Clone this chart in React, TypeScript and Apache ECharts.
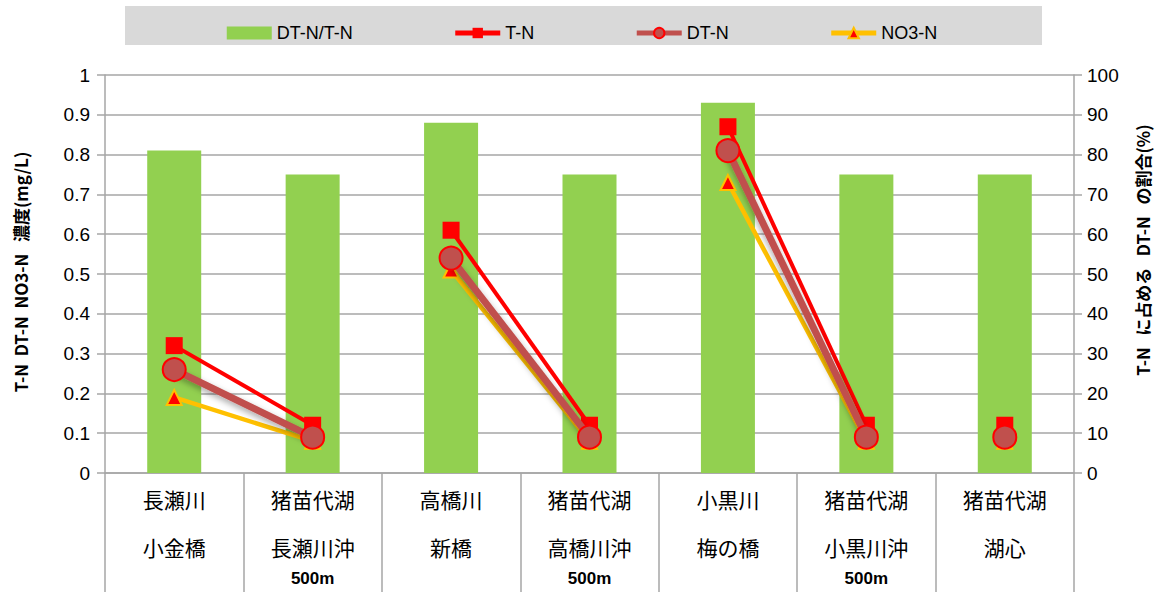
import React, { useEffect, useRef } from "react";
import * as echarts from "echarts";

const categories = [
  "長瀬川\n小金橋",
  "猪苗代湖\n長瀬川沖\n500m",
  "高橋川\n新橋",
  "猪苗代湖\n高橋川沖\n500m",
  "小黒川\n梅の橋",
  "猪苗代湖\n小黒川沖\n500m",
  "猪苗代湖\n湖心",
];
const ratioDTNtoTN = [81, 75, 88, 75, 93, 75, 75];
const tN = [0.32, 0.12, 0.61, 0.12, 0.87, 0.12, 0.12];
const dtN = [0.26, 0.09, 0.54, 0.09, 0.81, 0.09, 0.09];
const no3N = [0.19, 0.08, 0.51, 0.08, 0.73, 0.08, 0.08];
const segments = [
  [0, 1],
  [2, 3],
  [4, 5],
  [6, 6],
];
const leftTicks = { min: 0, max: 1, interval: 0.1 };
const rightTicks = { min: 0, max: 100, interval: 10 };

const FONT = "'Liberation Sans', 'Noto Sans', sans-serif";
const CJK = "'Noto Sans CJK JP', 'Liberation Sans', sans-serif";

function segSeries(name: string, values: number[], extra: any) {
  return segments.map(([a, b]) => ({
    name,
    type: "line",
    yAxisIndex: 0,
    connectNulls: false,
    data: values.map((v, i) => (i >= a && i <= b ? v : null)),
    ...extra,
  }));
}

export default function App() {
  const ref = useRef<HTMLDivElement>(null);
  useEffect(() => {
    document.body.style.margin = "0";
    if (!ref.current) return;
    const chart = echarts.init(ref.current, undefined, { renderer: "svg" });
    const gray = "#A6A6A6";
    const option: any = {
      animation: false,
      backgroundColor: "#ffffff",
      graphic: [
        {
          type: "rect",
          z: 0,
          shape: { x: 125, y: 6, width: 917, height: 39 },
          style: { fill: "#D9D9D9" },
        },
        {
          type: "text",
          x: 20,
          y: 272,
          rotation: Math.PI / 2,
          style: {
            text: "T-N  DT-N  NO3-N   濃度(mg/L)",
            fontSize: 17,
            fontWeight: "bold",
            fontFamily: CJK,
            fill: "#000",
            align: "center",
            verticalAlign: "middle",
          },
        },
        {
          type: "text",
          x: 1142,
          y: 250,
          rotation: Math.PI / 2,
          style: {
            text: "T-N   に占める   DT-N   の割合(%)",
            fontSize: 17,
            fontWeight: "bold",
            fontFamily: CJK,
            fill: "#000",
            align: "center",
            verticalAlign: "middle",
          },
        },
      ],
      legend: {
        z: 5,
        top: 19,
        left: "center",
        itemWidth: 45,
        itemHeight: 13,
        itemGap: 100,
        textStyle: { fontSize: 18, color: "#000", fontFamily: FONT },
        data: [
          { name: "DT-N/T-N", icon: "rect" },
          { name: "T-N", lineStyle: { width: 5 } },
          { name: "DT-N", lineStyle: { width: 5 } },
          { name: "NO3-N", lineStyle: { width: 5 } },
        ],
      },
      grid: { left: 105, right: 90, top: 75, bottom: 119 },
      xAxis: {
        type: "category",
        data: categories,
        axisLine: { lineStyle: { color: gray, width: 1.5 } },
        axisTick: {
          show: true,
          length: 119,
          interval: 0,
          alignWithLabel: false,
          lineStyle: { color: gray, width: 1.5 },
        },
        axisLabel: {
          interval: 0,
          margin: 2,
          color: "#000",
          formatter: (v: string) =>
            v
              .split("\n")
              .map((s, i) => (i < 2 ? `{a|${s}}` : `{b|${s}}`))
              .join("\n"),
          rich: {
            a: { fontSize: 21, lineHeight: 48, fontFamily: CJK, color: "#000" },
            b: {
              fontSize: 17,
              lineHeight: 14,
              fontWeight: "bold",
              fontFamily: FONT,
              color: "#000",
            },
          },
        },
      },
      yAxis: [
        {
          type: "value",
          ...leftTicks,
          position: "left",
          axisLine: { show: true, lineStyle: { color: gray, width: 1.5 } },
          axisTick: { show: true, length: 8, lineStyle: { color: gray, width: 1.5 } },
          axisLabel: { fontSize: 19, color: "#000", fontFamily: FONT, margin: 15 },
          splitLine: { show: true, lineStyle: { color: gray, width: 1.5 } },
        },
        {
          type: "value",
          ...rightTicks,
          position: "right",
          axisLine: { show: true, lineStyle: { color: gray, width: 1.5 } },
          axisTick: { show: true, length: 8, lineStyle: { color: gray, width: 1.5 } },
          axisLabel: { fontSize: 19, color: "#000", fontFamily: FONT, margin: 13 },
          splitLine: { show: false },
        },
      ],
      series: [
        {
          name: "DT-N/T-N",
          type: "bar",
          yAxisIndex: 1,
          barWidth: 54,
          itemStyle: { color: "#92D050" },
          data: ratioDTNtoTN,
        },
        ...segSeries("T-N", tN, {
          symbol: "rect",
          symbolSize: 17,
          itemStyle: { color: "#FF0000" },
          lineStyle: { color: "#FF0000", width: 4 },
          z: 3,
        }),
        ...segSeries("NO3-N", no3N, {
          symbol: "triangle",
          symbolSize: 15,
          itemStyle: { color: "#FF0000", borderColor: "#FFC000", borderWidth: 2 },
          lineStyle: { color: "#FFC000", width: 4.5 },
          z: 4,
        }),
        ...segSeries("DT-N", dtN, {
          symbol: "circle",
          symbolSize: 23,
          itemStyle: { color: "#C0504D", borderColor: "#FF0000", borderWidth: 2 },
          lineStyle: {
            color: "#C0504D",
            width: 7,
            shadowColor: "rgba(0,0,0,0.35)",
            shadowBlur: 6,
            shadowOffsetY: 3,
          },
          z: 5,
        }),
      ],
    };
    chart.setOption(option);
    return () => chart.dispose();
  }, []);
  return <div ref={ref} style={{ width: 1164, height: 592 }} />;
}
